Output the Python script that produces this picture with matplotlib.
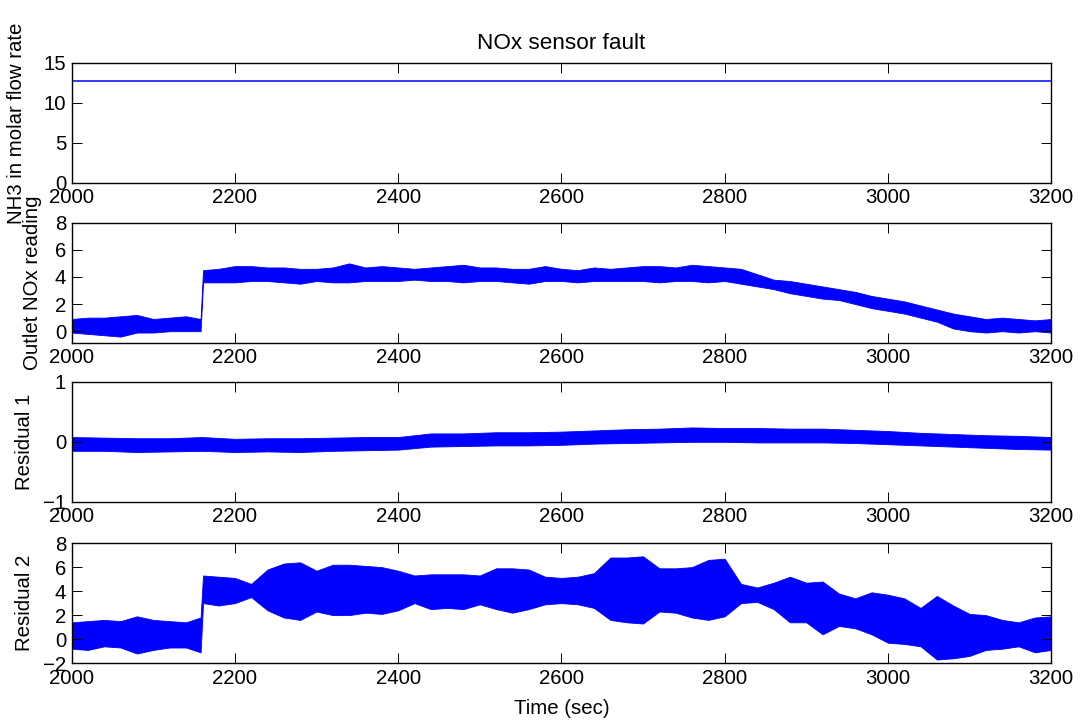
import matplotlib
matplotlib.use('Agg')
import matplotlib.pyplot as plt

plt.rcParams['font.family'] = ['Liberation Sans', 'DejaVu Sans']
plt.rcParams['font.size'] = 14.7

# NH3 dosing (constant)
nh3_t = [2000, 3200]
nh3_val = [12.7, 12.7]

# Outlet NOx reading: lower / upper edge of the noise band
nox_t = [2000, 2020, 2040, 2060, 2080, 2100, 2120, 2140, 2158, 2161, 2180,
         2200, 2220, 2240, 2260, 2280, 2300, 2320, 2340, 2360, 2380, 2400,
         2420, 2440, 2460, 2480, 2500, 2520, 2540, 2560, 2580, 2600, 2620,
         2640, 2660, 2680, 2700, 2720, 2740, 2760, 2780, 2800, 2820, 2840,
         2860, 2880, 2900, 2920, 2940, 2960, 2980, 3000, 3020, 3040, 3060,
         3080, 3100, 3120, 3140, 3160, 3180, 3200]
nox_lo = [-0.1, -0.2, -0.3, -0.4, -0.1, -0.1, 0.0, 0.0, 0.0, 3.6, 3.6,
          3.6, 3.7, 3.7, 3.6, 3.5, 3.7, 3.6, 3.6, 3.7, 3.7, 3.7,
          3.8, 3.7, 3.7, 3.6, 3.7, 3.7, 3.6, 3.5, 3.7, 3.7, 3.6,
          3.7, 3.7, 3.7, 3.7, 3.6, 3.7, 3.7, 3.6, 3.7, 3.5, 3.3,
          3.1, 2.8, 2.6, 2.4, 2.3, 2.0, 1.7, 1.5, 1.3, 1.0, 0.7,
          0.2, 0.0, -0.1, 0.0, -0.1, 0.0, -0.1]
nox_hi = [0.9, 1.0, 1.0, 1.1, 1.2, 0.9, 1.0, 1.1, 0.9, 4.5, 4.6,
          4.8, 4.8, 4.7, 4.7, 4.6, 4.6, 4.7, 5.0, 4.7, 4.8, 4.7,
          4.6, 4.7, 4.8, 4.9, 4.7, 4.7, 4.6, 4.6, 4.8, 4.6, 4.5,
          4.7, 4.6, 4.7, 4.8, 4.8, 4.7, 4.9, 4.8, 4.7, 4.6, 4.2,
          3.8, 3.7, 3.5, 3.3, 3.1, 2.9, 2.6, 2.4, 2.2, 1.9, 1.6,
          1.3, 1.1, 0.9, 1.0, 0.9, 0.8, 0.9]

# Residual 1
r1_t = [2000, 2040, 2080, 2120, 2160, 2200, 2240, 2280, 2320, 2360, 2400,
        2440, 2480, 2520, 2560, 2600, 2640, 2680, 2720, 2760, 2800, 2840,
        2880, 2920, 2960, 3000, 3040, 3080, 3120, 3160, 3200]
r1_lo = [-0.15, -0.15, -0.17, -0.16, -0.15, -0.17, -0.16, -0.17, -0.15, -0.14, -0.13,
         -0.08, -0.07, -0.06, -0.06, -0.05, -0.03, -0.02, -0.01, 0.0, 0.0, -0.01,
         -0.01, -0.01, -0.02, -0.04, -0.06, -0.08, -0.10, -0.12, -0.13]
r1_hi = [0.08, 0.07, 0.06, 0.06, 0.08, 0.05, 0.06, 0.06, 0.07, 0.08, 0.08,
         0.14, 0.14, 0.16, 0.16, 0.17, 0.19, 0.21, 0.22, 0.24, 0.23, 0.23,
         0.22, 0.22, 0.20, 0.18, 0.15, 0.13, 0.11, 0.10, 0.08]

# Residual 2
r2_t = [2000, 2020, 2040, 2060, 2080, 2100, 2120, 2140, 2158, 2161, 2180,
        2200, 2220, 2240, 2260, 2280, 2300, 2320, 2340, 2360, 2380, 2400,
        2420, 2440, 2460, 2480, 2500, 2520, 2540, 2560, 2580, 2600, 2620,
        2640, 2660, 2680, 2700, 2720, 2740, 2760, 2780, 2800, 2820, 2840,
        2860, 2880, 2900, 2920, 2940, 2960, 2980, 3000, 3020, 3040, 3060,
        3080, 3100, 3120, 3140, 3160, 3180, 3200]
r2_lo = [-0.8, -0.9, -0.6, -0.7, -1.2, -0.9, -0.7, -0.7, -1.1, 3.0, 2.8,
         3.0, 3.5, 2.4, 1.8, 1.6, 2.3, 2.0, 2.0, 2.2, 2.1, 2.4,
         3.0, 2.5, 2.6, 2.5, 2.9, 2.5, 2.2, 2.5, 2.9, 3.0, 2.9,
         2.6, 1.6, 1.4, 1.3, 2.3, 2.2, 1.8, 1.6, 1.9, 3.0, 3.1,
         2.5, 1.4, 1.4, 0.4, 1.1, 0.9, 0.4, -0.3, -0.4, -0.6, -1.7,
         -1.6, -1.4, -0.9, -0.8, -0.6, -1.1, -0.9]
r2_hi = [1.4, 1.5, 1.6, 1.5, 1.9, 1.6, 1.5, 1.4, 1.8, 5.3, 5.2,
         5.1, 4.6, 5.8, 6.3, 6.4, 5.7, 6.2, 6.2, 6.1, 6.0, 5.7,
         5.3, 5.4, 5.4, 5.4, 5.3, 5.9, 5.9, 5.8, 5.2, 5.1, 5.2,
         5.5, 6.8, 6.8, 6.9, 5.9, 5.9, 6.0, 6.6, 6.7, 4.6, 4.3,
         4.7, 5.2, 4.7, 4.8, 3.8, 3.4, 3.9, 3.7, 3.4, 2.6, 3.6,
         2.8, 2.1, 2.0, 1.6, 1.4, 1.8, 1.9]

x_ticks = [2000, 2200, 2400, 2600, 2800, 3000, 3200]
blue = '#0000ff'

fig = plt.figure(figsize=(10.8, 7.2), dpi=100)
left, width, height = 0.0663, 0.907, 0.1667
bottoms = [0.746, 0.524, 0.303, 0.079]
axes = [fig.add_axes([left, b, width, height]) for b in bottoms]

for ax in axes:
    ax.set_xlim(2000, 3200)
    ax.set_xticks(x_ticks)
    ax.tick_params(direction='in', top=True, right=True, length=7.5,
                   width=0.7, labelsize=14.7)
    ax.tick_params(axis='x', pad=4)
    ax.tick_params(axis='y', pad=4)
    for s in ax.spines.values():
        s.set_linewidth(1.0)

ax1, ax2, ax3, ax4 = axes

ax1.plot(nh3_t, nh3_val, color=blue, lw=1.1, solid_capstyle='butt')
ax1.set_ylim(0, 15)
ax1.set_yticks([0, 5, 10, 15])
ax1.set_title('NOx sensor fault', fontsize=16.2, pad=10)
ax1.set_ylabel('NH3 in molar flow rate', va='center')
ax1.yaxis.set_label_coords(-0.056, 0.5)

ax2.fill_between(nox_t, nox_lo, nox_hi, color=blue, lw=0.6)
ax2.set_ylim(-0.85, 8)
ax2.set_yticks([0, 2, 4, 6, 8])
ax2.set_ylabel('Outlet NOx reading', va='center')
ax2.yaxis.set_label_coords(-0.040, 0.5)

ax3.fill_between(r1_t, r1_lo, r1_hi, color=blue, lw=0.6)
ax3.set_ylim(-1, 1)
ax3.set_yticks([-1, 0, 1])
ax3.set_ylabel('Residual 1', va='center')
ax3.yaxis.set_label_coords(-0.048, 0.5)

ax4.fill_between(r2_t, r2_lo, r2_hi, color=blue, lw=0.6)
ax4.set_ylim(-2, 8)
ax4.set_yticks([-2, 0, 2, 4, 6, 8])
ax4.set_ylabel('Residual 2', va='center')
ax4.yaxis.set_label_coords(-0.048, 0.5)
ax4.set_xlabel('Time (sec)')
ax4.xaxis.set_label_coords(0.5, -0.30)

fig.savefig('out.png', dpi=100)
